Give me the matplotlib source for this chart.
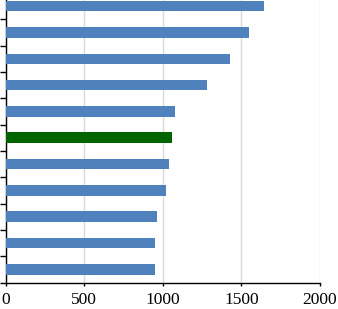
import matplotlib.pyplot as plt

# bottom to top
values = [948, 950, 963, 1022, 1042, 1062, 1077, 1280, 1428, 1547, 1645]
colors = ["#4F81BD"] * 5 + ["#006400"] + ["#4F81BD"] * 5
x_ticks = [0, 500, 1000, 1500, 2000]

plt.rcParams["font.family"] = ["Liberation Serif", "DejaVu Serif"]

fig = plt.figure(figsize=(3.38, 3.09), dpi=100)
ax = fig.add_axes([5.5 / 338, 26.5 / 309, (320 - 5.5) / 338, (282.5 + 7) / 309])

pos = list(range(len(values)))
ax.barh(pos, values, height=0.4, color=colors, zorder=3)

ax.set_xlim(0, 2000)
ax.set_ylim(-0.5, len(values) - 0.5)
ax.set_xticks(x_ticks)
ax.set_xticklabels([str(t) for t in x_ticks], fontsize=12.5)
ax.set_yticks([p - 0.5 for p in pos])
ax.set_yticklabels([])

ax.grid(axis="x", color="#d9d9d9", linewidth=1.0, zorder=0)
for s in ("top", "right"):
    ax.spines[s].set_visible(False)
ax.spines["left"].set_linewidth(1.0)
ax.spines["bottom"].set_linewidth(1.0)
ax.tick_params(axis="y", length=4, width=1.0, direction="out")
ax.tick_params(axis="x", length=2.2, width=1.0, direction="out", pad=5)

fig.savefig("out.png", dpi=100)
